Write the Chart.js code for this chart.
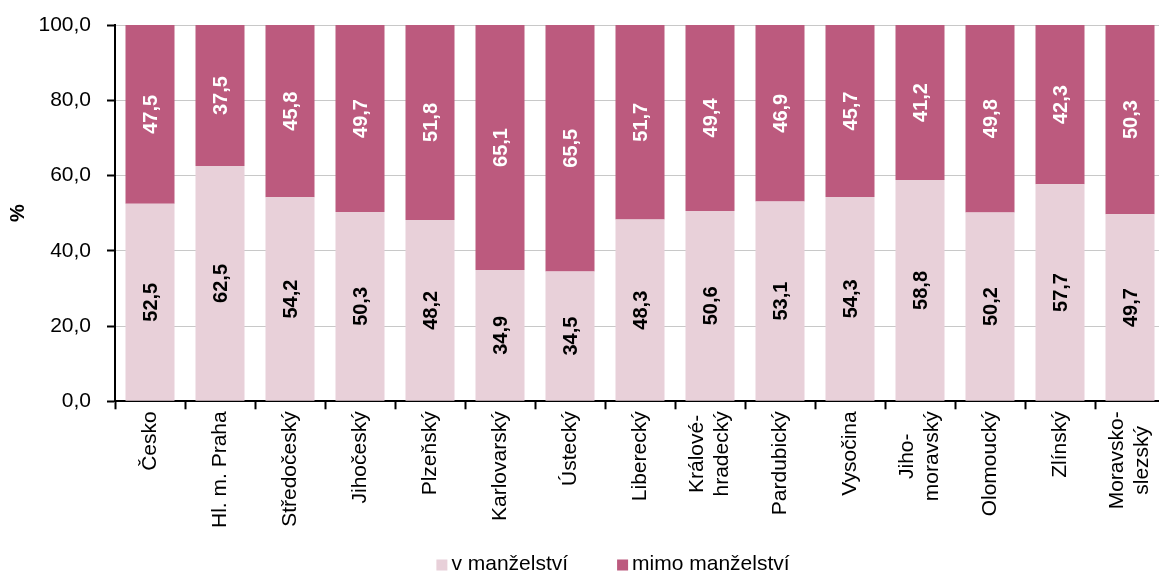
<!DOCTYPE html>
<html>
<head>
<meta charset="utf-8">
<script src="https://cdn.jsdelivr.net/npm/chart.js@4.4.1/dist/chart.umd.min.js"></script>
<style>
html,body{margin:0;padding:0;background:#fff;overflow:hidden;}
#wrap{width:1166px;height:572px;position:relative;}
</style>
</head>
<body>
<div id="wrap"><canvas id="c"></canvas></div>
<script>
const categories = ["Česko","Hl. m. Praha","Středočeský","Jihočeský","Plzeňský","Karlovarský","Ústecký","Liberecký",["Králové-","hradecký"],"Pardubický","Vysočina",["Jiho-","moravský"],"Olomoucký","Zlínský",["Moravsko-","slezský"]];
const vManzelstvi = [52.5,62.5,54.2,50.3,48.2,34.9,34.5,48.3,50.6,53.1,54.3,58.8,50.2,57.7,49.7];
const mimoManzelstvi = [47.5,37.5,45.8,49.7,51.8,65.1,65.5,51.7,49.4,46.9,45.7,41.2,49.8,42.3,50.3];
const seriesNames = ["v manželství","mimo manželství"];
const yTicks = [0,20,40,60,80,100];

const FONT = '"Liberation Sans", Arial, Helvetica, sans-serif';
const fmt = v => v.toFixed(1).replace('.', ',');

const barLabels = {
  id: 'barLabels',
  afterDatasetsDraw(chart) {
    const ctx = chart.ctx;
    chart.data.datasets.forEach((ds, di) => {
      const meta = chart.getDatasetMeta(di);
      meta.data.forEach((el, i) => {
        const v = ds.data[i];
        const y = (el.y + el.base) / 2;
        ctx.save();
        ctx.translate(el.x, y);
        ctx.rotate(-Math.PI / 2);
        ctx.font = 'bold 20px ' + FONT;
        ctx.fillStyle = ds.labelColor;
        ctx.textAlign = 'center';
        ctx.textBaseline = 'middle';
        ctx.fillText(fmt(v), 0, 1);
        ctx.restore();
      });
    });
  }
};

// centre multi-line rotated category labels on their bar, lines centred on each other
const centerMultiline = {
  id: 'centerMultiline',
  beforeDraw(chart) {
    const s = chart.scales.x;
    const items = s.getLabelItems();
    if (items._adj) return;
    const ctx = chart.ctx;
    items.forEach(it => {
      if (Array.isArray(it.label) && it.label.length > 1) {
        ctx.save();
        ctx.font = it.font.string;
        const w = Math.max(...it.label.map(t => ctx.measureText(t).width));
        ctx.restore();
        it.options.translation[0] -= (it.label.length - 1) * it.font.lineHeight / 2;
        it.options.translation[1] += w / 2;
        it.options.textAlign = 'center';
      }
    });
    items._adj = true;
  }
};

const bottomLegend = {
  id: 'bottomLegend',
  afterDraw(chart) {
    const ctx = chart.ctx;
    ctx.save();
    ctx.font = '21px ' + FONT;
    const box = 11, gapText = 4, gapItem = 49;
    const items = chart.data.datasets.map(d => ({text: d.label, color: d.backgroundColor, w: ctx.measureText(d.label).width}));
    let total = 0;
    items.forEach((it, i) => { total += box + gapText + it.w + (i ? gapItem : 0); });
    const ca = chart.chartArea;
    let x = (ca.left + ca.right) / 2 - 27 - total / 2;
    const yc = chart.height - 8;
    items.forEach(it => {
      ctx.fillStyle = it.color;
      ctx.fillRect(x, yc - box / 2 + 1, box, box);
      x += box + gapText;
      ctx.fillStyle = '#000';
      ctx.textBaseline = 'middle';
      ctx.textAlign = 'left';
      ctx.fillText(it.text, x, yc);
      x += it.w + gapItem;
    });
    ctx.restore();
  }
};

new Chart(document.getElementById('c'), {
  type: 'bar',
  data: {
    labels: categories,
    datasets: [
      {label: seriesNames[0], data: vManzelstvi, backgroundColor: '#E8D0D9', labelColor: '#000', barPercentage: 0.7, categoryPercentage: 1.0},
      {label: seriesNames[1], data: mimoManzelstvi, backgroundColor: '#BC5A7E', labelColor: '#fff', barPercentage: 0.7, categoryPercentage: 1.0}
    ]
  },
  options: {
    responsive: true,
    maintainAspectRatio: false,
    animation: false,
    layout: {padding: {top: 25, right: 1, bottom: 42, left: 0}},
    plugins: {legend: {display: false}, tooltip: {enabled: false}},
    scales: {
      x: {
        stacked: true,
        offset: true,
        afterFit: s => { s.paddingLeft = 0; s.paddingRight = 0; },
        grid: {display: true, offset: true, drawOnChartArea: false, tickLength: 8, tickColor: '#000', tickWidth: 2},
        border: {display: true, color: '#000', width: 2},
        ticks: {color: '#000', font: {family: FONT, size: 21}, minRotation: 90, maxRotation: 90, autoSkip: false, padding: 2}
      },
      y: {
        stacked: true,
        min: 0, max: 100,
        afterFit: s => { s.width = 115; s.paddingTop = 0; s.paddingBottom = 0; },
        afterBuildTicks: axis => { axis.ticks = yTicks.map(v => ({value: v})); },
        grid: {color: '#C8C8C8', lineWidth: 1, tickLength: 8, tickColor: '#000', tickWidth: 2},
        border: {display: true, color: '#000', width: 2},
        ticks: {color: '#000', font: {family: FONT, size: 21}, padding: 16, callback: v => fmt(v)},
        title: {display: true, text: '%', color: '#000', font: {family: FONT, size: 20, weight: 'bold'}, padding: {top: 6, bottom: 6}}
      }
    }
  },
  plugins: [barLabels, centerMultiline, bottomLegend]
});
</script>
</body>
</html>
